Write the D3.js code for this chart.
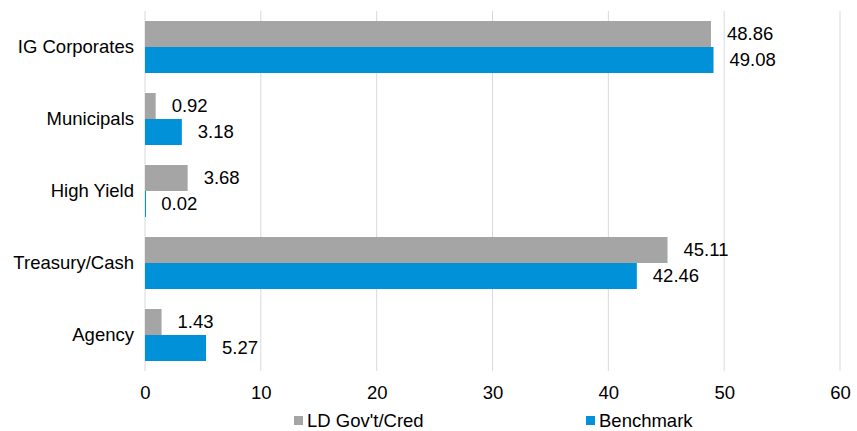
<!DOCTYPE html>
<html><head><meta charset="utf-8">
<script src="https://cdn.jsdelivr.net/npm/d3@7"></script>
<style>body{margin:0;background:#fff}svg{display:block}text{font-family:"Liberation Sans",Arial,sans-serif;fill:#000}</style>
</head><body>
<script>
const categories = ["IG Corporates","Municipals","High Yield","Treasury/Cash","Agency"];
const seriesNames = ["LD Gov't/Cred","Benchmark"];
const ldValues = [48.86,0.92,3.68,45.11,1.43];
const benchValues = [49.08,3.18,0.02,42.46,5.27];
const xTicks = [0,10,20,30,40,50,60];
const colors = ["#A5A5A5","#0091D8"];
const FS = 18.5;

const W=857,H=431;
const svg=d3.select("body").append("svg").attr("width",W).attr("height",H);
const x=d3.scaleLinear().domain([0,60]).range([145,840]);
const y=d3.scaleBand().domain(categories).range([11,371]).paddingInner(0).paddingOuter(0);
const sub=d3.scaleBand().domain(seriesNames).range([10,62]);

// gridlines
svg.append("g").selectAll("line").data(xTicks).join("line")
  .attr("x1",d=>x(d)).attr("x2",d=>x(d)).attr("y1",11).attr("y2",371)
  .attr("stroke","#D9D9D9").attr("stroke-width",1);

// x axis tick labels
const xa=svg.append("g").attr("transform","translate(0,386)")
  .call(d3.axisBottom(x).tickValues(xTicks).tickSize(0).tickPadding(0).tickFormat(d3.format("d")));
xa.select(".domain").remove();
xa.selectAll("text").attr("font-size",FS).attr("dy","0.71em").style("font-family","Liberation Sans, Arial, sans-serif");

// y axis labels
const ya=svg.append("g").attr("transform","translate(134,0)")
  .call(d3.axisLeft(y).tickSize(0).tickPadding(0));
ya.select(".domain").remove();
ya.selectAll("text").attr("font-size",FS).style("font-family","Liberation Sans, Arial, sans-serif");

const data=[];
categories.forEach((c,i)=>{
  data.push({c,s:seriesNames[0],v:ldValues[i],col:colors[0]});
  data.push({c,s:seriesNames[1],v:benchValues[i],col:colors[1]});
});
svg.append("g").selectAll("rect").data(data).join("rect")
  .attr("x",x(0)).attr("y",d=>y(d.c)+sub(d.s))
  .attr("width",d=>Math.max(x(d.v)-x(0),1)).attr("height",sub.bandwidth())
  .attr("fill",d=>d.col);

svg.append("g").selectAll("text").data(data).join("text")
  .attr("x",d=>x(d.v)+16).attr("y",d=>y(d.c)+sub(d.s)+sub.bandwidth()/2)
  .attr("dy","0.35em").attr("font-size",FS).text(d=>d3.format(".2f")(d.v));

// legend
const leg=[{n:seriesNames[0],c:colors[0],x:294},{n:seriesNames[1],c:colors[1],x:586}];
const lg=svg.append("g").selectAll("g").data(leg).join("g");
lg.append("rect").attr("x",d=>d.x).attr("y",416).attr("width",9).attr("height",9).attr("fill",d=>d.c);
lg.append("text").attr("x",d=>d.x+13).attr("y",427).attr("font-size",FS).text(d=>d.n);
</script>
</body></html>
